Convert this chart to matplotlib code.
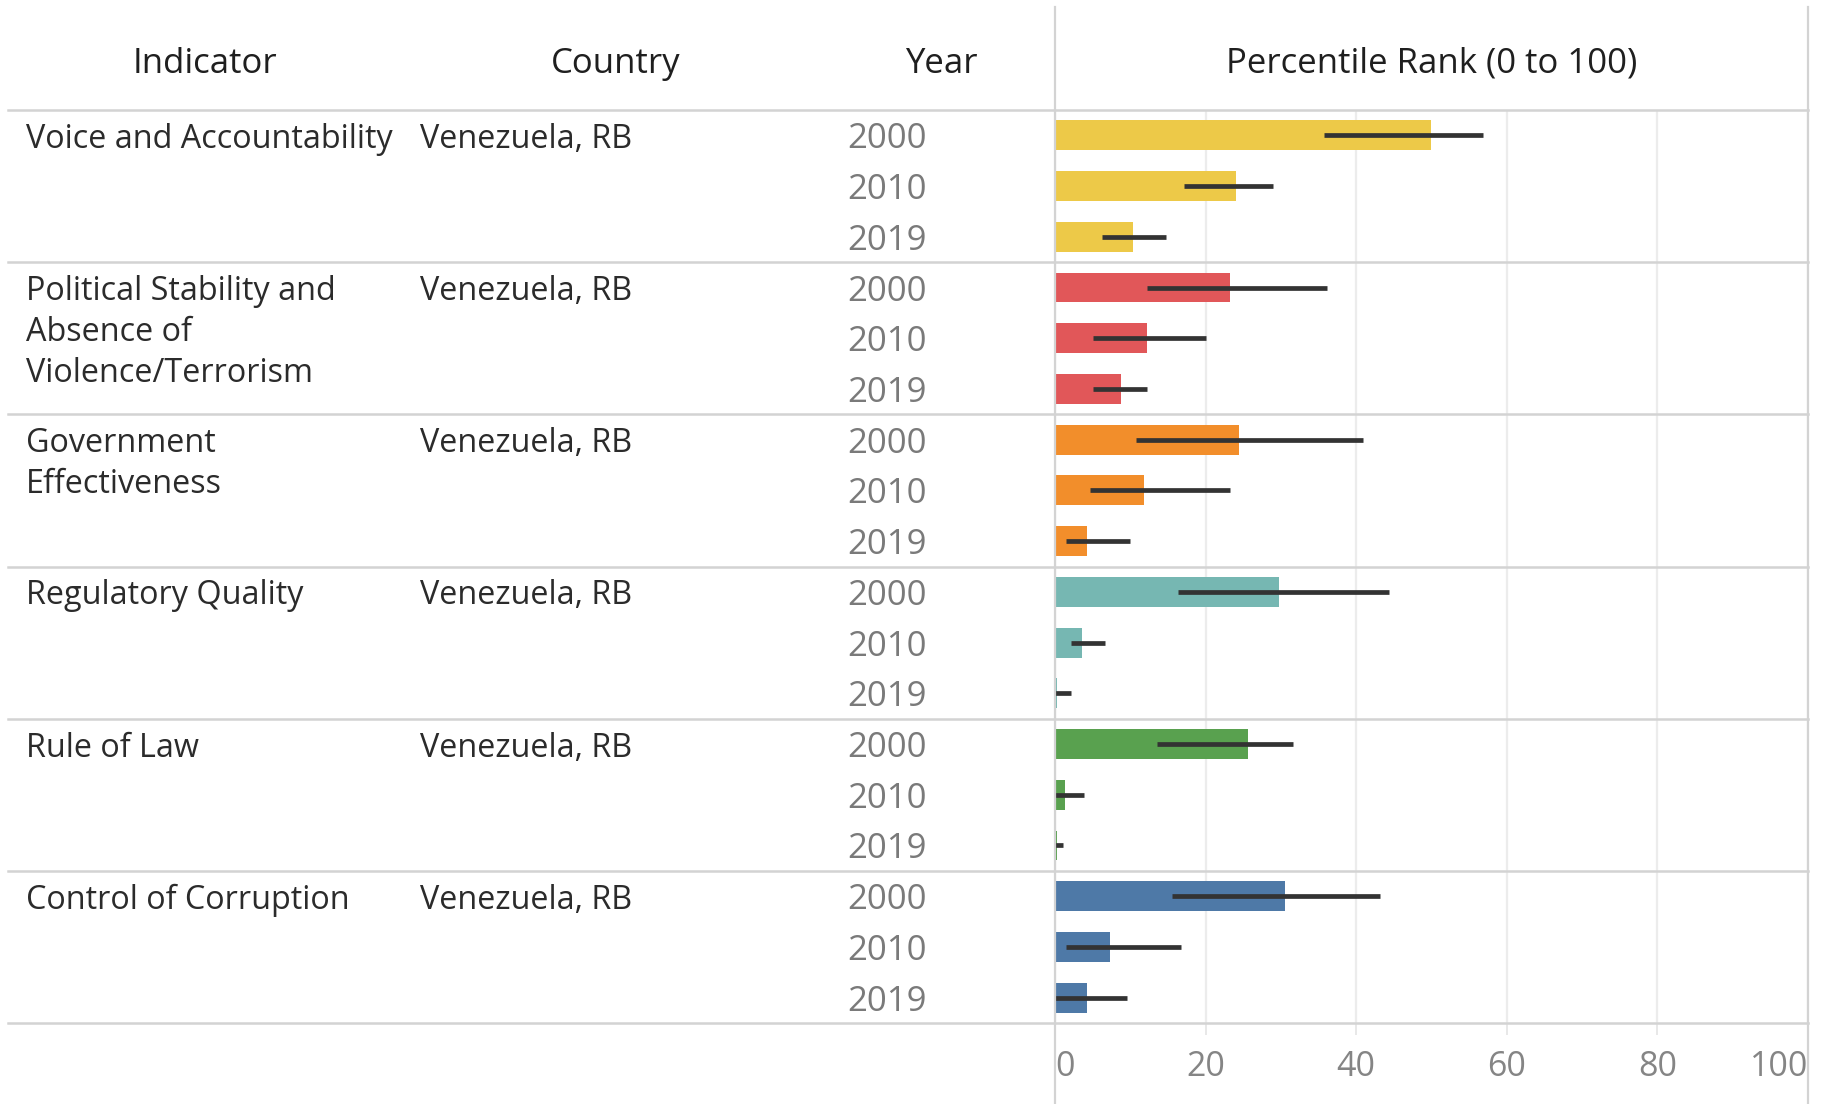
import matplotlib
matplotlib.use("Agg")
import matplotlib.pyplot as plt
from matplotlib.transforms import blended_transform_factory

plt.rcParams['font.family'] = ['Open Sans', 'DejaVu Sans']

# ---------------- data ----------------
indicators = ["Voice and Accountability",
              "Political Stability and\nAbsence of\nViolence/Terrorism",
              "Government\nEffectiveness",
              "Regulatory Quality",
              "Rule of Law",
              "Control of Corruption"]
country = "Venezuela, RB"
years = ["2000", "2010", "2019"]
rank = [[49.9, 24.1, 10.3],
        [23.3, 12.2, 8.8],
        [24.5, 11.8, 4.3],
        [29.7, 3.6, 0.3],
        [25.6, 1.3, 0.3],
        [30.5, 7.3, 4.3]]
lower = [[35.7, 17.1, 6.2],
         [12.2, 5.1, 5.1],
         [10.7, 4.7, 1.4],
         [16.3, 2.1, 0.0],
         [13.6, 0.0, 0.0],
         [15.5, 1.4, 0.0]]
upper = [[56.9, 29.0, 14.8],
         [36.1, 20.0, 12.2],
         [40.9, 23.3, 9.9],
         [44.3, 6.6, 2.1],
         [31.6, 3.9, 1.0],
         [43.1, 16.7, 9.6]]
colors = ["#EDC948", "#E15759", "#F28E2B", "#76B7B2", "#59A14F", "#4E79A7"]
xticks = [0, 20, 40, 60, 80, 100]
headers = ["Indicator", "Country", "Year", "Percentile Rank (0 to 100)"]

# ---------------- layout ----------------
W, H = 1829, 1104
fig = plt.figure(figsize=(W / 100, H / 100), dpi=100)
x0, x1 = 1055, 1808
y_top, y_bot = 110, 1023
ax = fig.add_axes([x0 / W, 1 - y_bot / H, (x1 - x0) / W, (y_bot - y_top) / H])

n_g, n_y = len(indicators), len(years)
nrows = n_g * n_y
ax.set_xlim(0, 100)
ax.set_ylim(nrows, 0)

for g in range(n_g):
    ys = [g * n_y + j + 0.5 for j in range(n_y)]
    ax.barh(ys, rank[g], height=0.59, color=colors[g], zorder=2)
    ax.hlines(ys, lower[g], upper[g], color="#333333", lw=3.4, zorder=3)

for s in ax.spines.values():
    s.set_visible(False)
ax.set_yticks([])
ax.set_xticks(xticks)
ax.set_xticklabels([str(t) for t in xticks])
ax.tick_params(axis='x', length=8.5, width=1.3, color="#e6e6e6", pad=11,
               labelsize=24.5, labelcolor="#858585")
labs = ax.get_xticklabels()
labs[0].set_ha('left')
labs[-1].set_ha('right')
ax.grid(axis='x', color="#ececec", lw=1.6, zorder=0)
ax.set_axisbelow(True)

# separators
line_col = "#d3d3d3"
xmin_ax = (8 - x0) / (x1 - x0)
for g in range(n_g + 1):
    ax.axhline(g * n_y, xmin=xmin_ax, xmax=1, color=line_col, lw=1.8,
               clip_on=False, zorder=1)
ymin_ax = (y_bot - H) / (y_bot - y_top)
ymax_ax = (y_bot - 7) / (y_bot - y_top)
for xv in (0, 100):
    ax.axvline(xv, ymin=ymin_ax, ymax=ymax_ax, color=line_col, lw=1.6,
               clip_on=False, zorder=4)

# text columns
tr = blended_transform_factory(fig.transFigure, ax.transData)
txt_col = "#2b2b2b"
fs = 23.3
line_step = 41 / ((y_bot - y_top) / nrows)
for g in range(n_g):
    base = g * n_y + 0.5
    for k, part in enumerate(indicators[g].split("\n")):
        ax.text(26 / W, base + k * line_step, part, transform=tr, ha='left',
                va='center_baseline', fontsize=fs, color=txt_col)
    ax.text(420 / W, base, country, transform=tr, ha='left',
            va='center_baseline', fontsize=fs, color=txt_col)
    for j, yr in enumerate(years):
        ax.text(887 / W, base + j, yr, transform=tr, ha='center',
                va='center_baseline', fontsize=25, color="#7a7a7a")

# headers
hx = [205, 616, 941, (x0 + x1) / 2]
for h, xx in zip(headers, hx):
    fig.text(xx / W, 1 - 60 / H, h, ha='center', va='center_baseline',
             fontsize=25, color="#1f1f1f")

fig.savefig("out.png", dpi=100, facecolor="white")
